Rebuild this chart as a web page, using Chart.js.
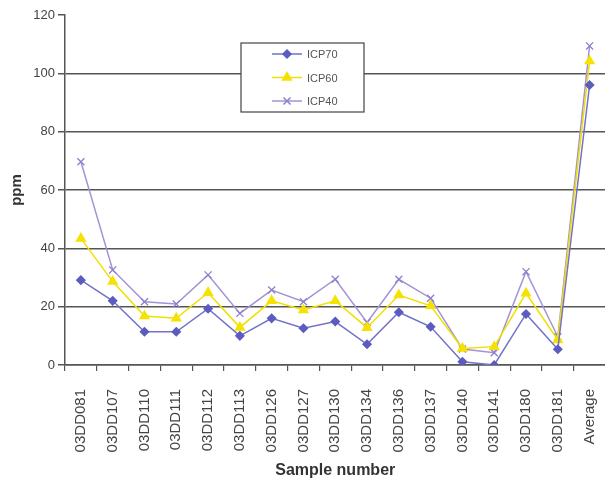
<!DOCTYPE html>
<html>
<head>
<meta charset="utf-8">
<script src="https://cdn.jsdelivr.net/npm/chart.js@4/dist/chart.umd.min.js"></script>
<style>
  html, body { margin: 0; padding: 0; background: #fff; overflow: hidden; }
  #wrap { width: 612px; height: 484px; position: relative; }
</style>
</head>
<body>
<div id="wrap"><canvas id="icpChart"></canvas></div>
<script>
// sample ids along the x axis
const samples = ['03DD081', '03DD107', '03DD110', '03DD111', '03DD112', '03DD113', '03DD126', '03DD127',
    '03DD130', '03DD134', '03DD136', '03DD137', '03DD140', '03DD141', '03DD180', '03DD181', 'Average'];

// ppm values
const icp70 = [29.1, 22, 11.4, 11.4, 19.3, 10, 16, 12.6, 14.9, 7.1, 18.1, 13.1, 1.1, 0, 17.5, 5.4, 96];
const icp60 = [43.4, 28.6, 16.8, 16, 24.8, 12.9, 22, 18.9, 22, 12.8, 24, 20.3, 5.7, 6.3, 24.6, 8.6, 104.2];
const icp40 = [69.7, 32.6, 21.7, 20.9, 30.9, 17.7, 25.7, 21.7, 29.4, 14.6, 29.4, 22.9, 5.5, 4.2, 32, 9.7, 109.4];

const yTicks = [0, 20, 40, 60, 80, 100, 120];

const FONT = '"Liberation Sans", Arial, sans-serif';

// draws the boxed legend inside the plot, like the original
const boxLegend = {
    id: 'boxLegend',
    afterDatasetsDraw(chart) {
        const ctx = chart.ctx;
        const x = 241, y = 43, w = 123, h = 69;
        ctx.save();
        ctx.fillStyle = '#fff';
        ctx.fillRect(x, y, w, h);
        ctx.strokeStyle = '#444';
        ctx.lineWidth = 1.2;
        ctx.strokeRect(x, y, w, h);
        chart.data.datasets.forEach((ds, i) => {
            const cy = y + 11 + i * 23.5;
            ctx.strokeStyle = ds.borderColor;
            ctx.lineWidth = 1.5;
            ctx.beginPath();
            ctx.moveTo(272, cy);
            ctx.lineTo(302, cy);
            ctx.stroke();
            ctx.fillStyle = ds.pointBackgroundColor;
            ctx.strokeStyle = ds.pointBorderColor;
            Chart.helpers.drawPoint(ctx, {
                pointStyle: ds.pointStyle, radius: ds.pointRadius, borderWidth: 1.2
            }, 287, cy);
            ctx.fillStyle = '#555';
            ctx.font = '11px ' + FONT;
            ctx.textBaseline = 'middle';
            ctx.textAlign = 'left';
            ctx.fillText(ds.label, 307, cy + 1);
        });
        ctx.restore();
    }
};

const ctx = document.getElementById('icpChart').getContext('2d');
new Chart(ctx, {
    type: 'line',
    data: {
        labels: samples,
        datasets: [
            { label: 'ICP70', data: icp70, borderColor: '#7272c8', pointBackgroundColor: '#5c5cc0', pointBorderColor: '#5c5cc0',
              pointStyle: 'rectRot', pointRadius: 4, borderWidth: 1.5 },
            { label: 'ICP60', data: icp60, borderColor: '#f0e000', pointBackgroundColor: '#f5e200', pointBorderColor: '#f5e200',
              pointStyle: 'triangle', pointRadius: 5, borderWidth: 1.5 },
            { label: 'ICP40', data: icp40, borderColor: '#a393d6', pointBackgroundColor: '#8f7fcc', pointBorderColor: '#8f7fcc',
              pointStyle: 'crossRot', pointRadius: 5, borderWidth: 1.5, pointBorderWidth: 1.3 }
        ]
    },
    options: {
        responsive: true,
        maintainAspectRatio: false,
        animation: false,
        layout: { padding: { top: 15, right: 0, left: 8, bottom: 0 } },
        plugins: {
            legend: { display: false },
            tooltip: { enabled: false }
        },
        elements: { line: { tension: 0 } },
        scales: {
            x: {
                offset: true,
                grid: { offset: true, drawOnChartArea: false, drawTicks: true, tickLength: 6, color: '#555', lineWidth: 1.2 },
                border: { color: '#555', width: 1.5 },
                ticks: {
                    autoSkip: false, maxRotation: 90, minRotation: 90, padding: 18,
                    color: '#444', font: { family: FONT, size: 15 }
                },
                title: {
                    display: true, text: 'Sample number', color: '#333', padding: { top: 4, bottom: 4 },
                    font: { family: FONT, size: 16, weight: 'bold' }
                },
                afterFit(scale) {
                    scale.height = 119;
                    scale.paddingLeft = 0;
                    scale.paddingRight = 0;
                }
            },
            y: {
                min: 0, max: 120,
                afterBuildTicks(scale) { scale.ticks = yTicks.map(v => ({ value: v })); },
                grid: {
                    color: c => (c.tick && c.tick.value === 120) ? 'rgba(0,0,0,0)' : '#555',
                    tickColor: '#555', tickLength: 7, lineWidth: 1.5
                },
                border: { color: '#555', width: 1.5 },
                ticks: {
                    padding: 3, color: '#444',
                    font: { family: FONT, size: 13 }
                },
                title: {
                    display: true, text: 'ppm', color: '#333', padding: { top: 0, bottom: 6 },
                    font: { family: FONT, size: 15, weight: 'bold' }
                },
                afterFit(scale) { scale.width = 57; }
            }
        }
    },
    plugins: [boxLegend]
});
</script>
</body>
</html>
